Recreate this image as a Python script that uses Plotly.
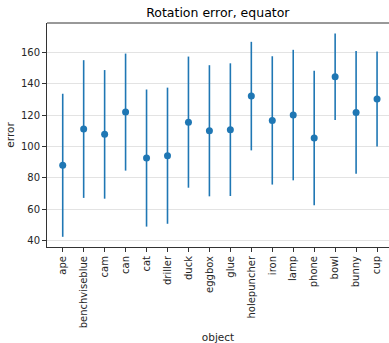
import plotly.graph_objects as go

objects = ["ape", "benchviseblue", "cam", "can", "cat", "driller", "duck", "eggbox",
           "glue", "holepuncher", "iron", "lamp", "phone", "bowl", "bunny", "cup"]
mean_error = [88.0, 111.1, 107.7, 121.9, 92.6, 94.1, 115.5, 110.0,
              110.7, 132.1, 116.6, 120.0, 105.4, 144.4, 121.7, 130.2]
std_error = [45.6, 43.9, 41.0, 37.3, 43.7, 43.4, 41.8, 41.8,
             42.3, 34.6, 40.9, 41.6, 42.9, 27.6, 39.1, 30.3]

blue = "#1f77b4"
font = "DejaVu Sans"

fig = go.Figure()
fig.add_trace(go.Scatter(
    x=list(range(len(objects))), y=mean_error, mode="markers",
    marker=dict(color=blue, size=7),
    error_y=dict(type="data", array=std_error, visible=True, color=blue,
                 thickness=1.6, width=0),
    showlegend=False,
))

fig.update_layout(
    width=389, height=343,
    margin=dict(l=47, r=0, t=23, b=96),
    paper_bgcolor="white", plot_bgcolor="white",
    font=dict(family=font, size=10, color="#262626"),
    title=dict(text="Rotation error, equator", x=0.56, xanchor="center",
               y=0.962, yanchor="middle", font=dict(size=12.5, color="#000")),
    xaxis=dict(
        range=[-0.75, 15.57], tickmode="array",
        tickvals=list(range(len(objects))), ticktext=objects,
        tickangle=-90, ticks="outside", ticklen=4, tickcolor="#333",
        showline=True, linecolor="#333", linewidth=1,
        showgrid=False, zeroline=False,
        title=dict(text="object", standoff=7, font=dict(size=10.5)),
    ),
    yaxis=dict(
        range=[35.9, 178.7], tickvals=[40, 60, 80, 100, 120, 140, 160],
        ticks="outside", ticklen=4, tickcolor="#333",
        showline=True, linecolor="#333", linewidth=1,
        showgrid=True, gridcolor="#e3e3e3", gridwidth=0.8, zeroline=False,
        title=dict(text="error", standoff=4, font=dict(size=10.5)),
    ),
    shapes=[dict(type="line", xref="paper", yref="paper", x0=0, x1=1.05,
                 y0=1, y1=1, line=dict(color="#333", width=1))],
)

fig.write_html("out.html", config={"displayModeBar": False},
               post_script="document.body.style.margin='0';document.body.style.overflow='hidden';")
